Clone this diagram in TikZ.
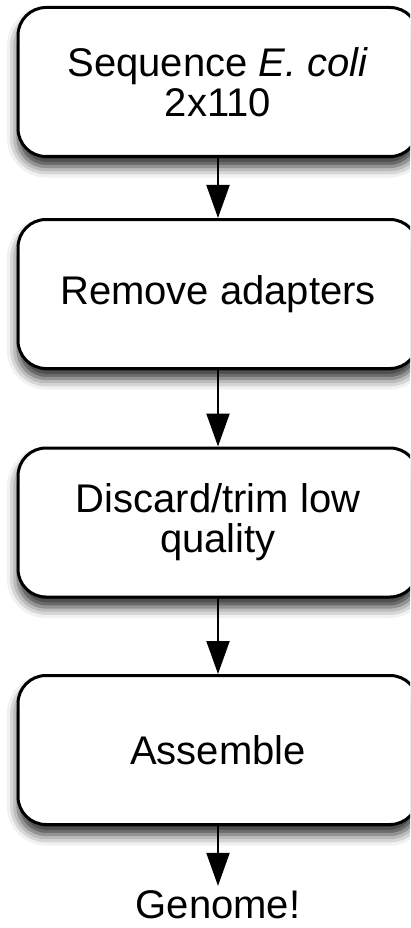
\documentclass[tikz,border=0pt]{standalone}
\usepackage{fontspec}
\setmainfont{Liberation Sans}
\usetikzlibrary{arrows.meta,shadows.blur}
\begin{document}
\begin{tikzpicture}[x=1pt,y=-1pt,
  stepbox/.style={draw=black, fill=white, line width=3pt, rounded corners=28pt,
    minimum width=400pt, minimum height=149pt, align=center,
    font=\fontsize{40}{40}\selectfont,
    blur shadow={shadow xshift=0pt, shadow yshift=-10pt, shadow blur radius=11pt, shadow opacity=85}},
  flow/.style={line width=2pt, -{Triangle[length=33pt, width=23pt]}},
  result/.style={font=\fontsize{40}{40}\selectfont, inner sep=4pt}]
  \useasboundingbox (0,0) rectangle (410,928);
  \clip (0,0) rectangle (410,928);
  \node[stepbox] (seq) at (218,82) {Sequence \textit{E. coli}\\2x110};
  \node[stepbox] (adapt) at (218,294) {Remove adapters};
  \node[stepbox] (trim) at (218,522.5) {Discard/trim low\\quality};
  \node[stepbox] (asm) at (218,750) {Assemble};
  \node[result, anchor=base] (genome) at (218,918) {Genome!};
  \draw[flow] (seq.south) -- (adapt.north);
  \draw[flow] (adapt.south) -- (trim.north);
  \draw[flow] (trim.south) -- (asm.north);
  \draw[flow] (asm.south) -- (genome.north);
\end{tikzpicture}
\end{document}
